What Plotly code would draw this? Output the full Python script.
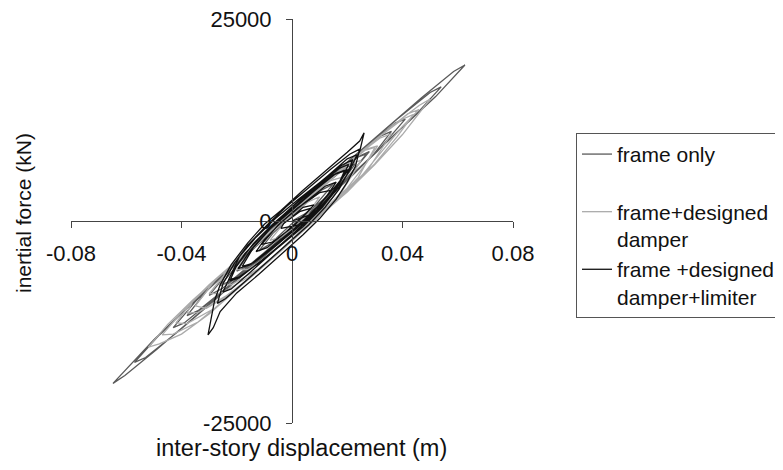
import plotly.graph_objects as go

# ---- data ----
x_ticks = [-0.08, -0.04, 0, 0.04, 0.08]
x_tick_labels = ["-0.08", "-0.04", "0", "0.04", "0.08"]
y_ticks = [-25000, 0, 25000]
y_tick_labels = ["-25000", "0", "25000"]

series_names = ["frame only", "frame+designed<br>damper", "frame +designed<br>damper+limiter"]

frame_only_x = [0, 0.006, 0.013, 0.020, 0.027, 0.023, 0.014, 0.005, -0.004, -0.013, -0.022, -0.030,
                -0.025, -0.015, -0.005, 0.006, 0.018, 0.030, 0.042, 0.052, 0.0626,
                0.0585, 0.047, 0.034, 0.020, 0.006, -0.008, -0.022, -0.036, -0.050, -0.0648,
                -0.0605, -0.049, -0.036, -0.022, -0.008, 0.006, 0.019, 0.031, 0.041,
                0.0375, 0.027, 0.015, 0.003, -0.010, -0.023, -0.035, -0.043,
                -0.039, -0.028, -0.016, -0.004, 0.008, 0.019, 0.028,
                0.024, 0.014, 0.003, -0.008, -0.018, -0.026,
                -0.022, -0.012, -0.002, 0.008, 0.015,
                0.011, 0.002, -0.007, -0.012, -0.008, 0,
                0.010, 0.022, 0.034, 0.046, 0.054,
                0.050, 0.038, 0.025, 0.010, -0.005, -0.020, -0.035, -0.048, -0.057,
                -0.053, -0.041, -0.027, -0.013, 0.001, 0.015, 0.029, 0.036,
                0.032, 0.020, 0.007, -0.006, -0.019, -0.031, -0.038,
                -0.034, -0.022, -0.009, 0.004, 0.016, 0.023,
                0.019, 0.008, -0.003, -0.014, -0.020,
                -0.016, -0.005, 0.004]
frame_only_f = [0, 1150, 3100, 5260, 8300, 7800, 5300, 2650, -130, -3000, -5900, -9200,
                -8300, -5600, -2650, 750, 4550, 8350, 12150, 15400, 19300,
                18500, 15280, 11470, 7360, 3150, -1160, -5580, -10090, -14700, -20100,
                -19130, -15890, -12090, -7980, -3760, 550, 4750, 8650, 12600,
                12150, 9220, 5720, 2120, -1980, -6080, -9980, -13200,
                -12610, -9520, -6030, -2430, 1360, 4950, 8600,
                7990, 5210, 1920, -1560, -4740, -8000,
                -7380, -4500, -1520, 1760, 4600,
                3890, 1320, -1560, -3700, -2860, -300,
                1900, 5700, 9700, 13600, 16600,
                15900, 12600, 8800, 4300, -300, -5000, -9800, -14100, -17500,
                -16900, -13600, -9500, -5100, -900, 3600, 8000, 11100,
                10500, 7300, 3300, -700, -4800, -8700, -11700,
                -11100, -7800, -3900, 0, 3900, 7100,
                6500, 3400, 100, -3300, -6200,
                -5600, -2500, 500]

damper_x = [0, 0.008, 0.016, 0.024, 0.030,
            0.026, 0.016, 0.005, -0.006, -0.017, -0.028, -0.035,
            -0.031, -0.022, -0.012, -0.002, 0.008, 0.019, 0.030, 0.040, 0.050,
            0.046, 0.036, 0.024, 0.012, 0, -0.012, -0.024, -0.036, -0.045, -0.052,
            -0.048, -0.040, -0.030, -0.018, -0.006, 0.006, 0.018, 0.028, 0.036,
            0.032, 0.022, 0.010, -0.002, -0.014, -0.026, -0.036, -0.042,
            -0.038, -0.028, -0.016, -0.004, 0.008, 0.018, 0.025,
            0.021, 0.011, 0, -0.011, -0.022, -0.030,
            -0.026, -0.016, -0.005, 0.006, 0.013, 0.018,
            0.014, 0.004, -0.007, -0.015, -0.020,
            -0.016, -0.007, 0.002, 0.010,
            0.006, -0.002, -0.008, -0.004, 0,
            0.010, 0.020, 0.030, 0.038, 0.044,
            0.040, 0.030, 0.018, 0.006, -0.006, -0.018, -0.030, -0.040, -0.047,
            -0.043, -0.034, -0.022, -0.010, 0.002, 0.014, 0.024, 0.032, 0.040, 0.046,
            0.042, 0.031, 0.019, 0.007, -0.005, -0.017, -0.028, -0.036, -0.038,
            -0.034, -0.024, -0.013, -0.001, 0.010, 0.020, 0.027, 0.031,
            0.027, 0.017, 0.006, -0.005, -0.015, -0.024, -0.026,
            -0.022, -0.012, -0.001, 0.008, 0.015, 0.021,
            0.017, 0.007, -0.003, -0.009]
damper_f = [0, 400, 2500, 5400, 9100,
            8700, 5900, 2600, -700, -4000, -7400, -10500,
            -10800, -9000, -6100, -3100, 0, 3300, 7000, 10700, 15100,
            14300, 11700, 8300, 4700, 1100, -2500, -6100, -9800, -12800, -15600,
            -15200, -14000, -11500, -7900, -4300, -600, 3100, 6600, 10800,
            10300, 7700, 4100, 500, -3100, -6700, -9900, -12600,
            -12700, -10800, -7300, -3700, 100, 3600, 7500,
            7100, 4400, 1100, -2200, -5600, -9000,
            -9000, -7000, -3900, -200, 2400, 5400,
            5000, 2200, -1100, -3700, -6000,
            -6000, -3900, -900, 3000,
            2400, 100, -2400, -2000, -1000,
            700, 3600, 7100, 10400, 13200,
            12600, 10000, 6500, 2900, -700, -4300, -7900, -11300, -14100,
            -14000, -12500, -9100, -5500, -1900, 1800, 5100, 8400, 11700, 13800,
            13300, 10300, 6800, 3200, -400, -4000, -7400, -10000, -11400,
            -11300, -9300, -6400, -2800, 800, 4100, 7200, 9300,
            8900, 6100, 2900, -400, -3400, -6100, -7800,
            -7900, -5900, -2700, 300, 3000, 6300,
            6000, 3100, 200, -1600]

limiter_x = [0, 0.006, 0.012, 0.018, 0.022, 0.0245, 0.0261,
             0.0245, 0.020, 0.012, 0.004, -0.004, -0.010, -0.016, -0.022, -0.026, -0.028, -0.0304,
             -0.0285, -0.026, -0.020, -0.012, -0.004, 0.004, 0.010, 0.016, 0.020, 0.023, 0.0245,
             0.021, 0.014, 0.006, -0.002, -0.009, -0.016, -0.021, -0.025, -0.027,
             -0.024, -0.018, -0.010, -0.002, 0.006, 0.012, 0.017, 0.020, 0.022,
             0.018, 0.010, 0.002, -0.006, -0.013, -0.019, -0.023,
             -0.019, -0.012, -0.004, 0.004, 0.011, 0.016, 0.019,
             0.015, 0.007, -0.001, -0.008, -0.014, -0.018,
             -0.014, -0.006, 0.002, 0.009, 0.014,
             0.010, 0.002, -0.005, -0.011,
             -0.007, 0, 0.007,
             0.003, -0.003, -0.004,
             0.004, 0.011, 0.017, 0.021, 0.0235,
             0.020, 0.013, 0.005, -0.003, -0.010, -0.017, -0.022, -0.025,
             -0.022, -0.015, -0.007, 0.001, 0.008, 0.014, 0.018, 0.0205,
             0.017, 0.009, 0.001, -0.007, -0.014, -0.020, -0.0225,
             -0.019, -0.011, -0.003, 0.005, 0.012, 0.017, 0.020,
             0.016, 0.008, 0, -0.008, -0.015, -0.0195,
             -0.015, -0.007, 0.001, 0.008, 0.013, 0.016,
             0.012, 0.004, -0.004, -0.010, -0.013,
             -0.009, -0.002, 0.004, 0.008,
             0.004, 0]
limiter_f = [0, 700, 2800, 5200, 7100, 8600, 10900,
             9900, 8500, 6200, 3800, 1300, -400, -2700, -5400, -7900, -9800, -14100,
             -13200, -11200, -8900, -6600, -4200, -1700, 300, 2700, 4800, 6800, 8900,
             8300, 6400, 4100, 1800, -500, -3000, -5300, -7800, -10200,
             -9600, -7800, -5400, -3000, -500, 1700, 3900, 5800, 7600,
             6900, 4800, 2600, 300, -2000, -4400, -7300,
             -6900, -5200, -3000, -700, 1700, 3900, 6200,
             5700, 3500, 1200, -1000, -3300, -5600,
             -5200, -3100, -800, 1400, 3800,
             3500, 1600, -500, -2900,
             -2600, -800, 1600,
             1200, -300, -900,
             -400, 1800, 4200, 6300, 8200,
             7700, 5600, 3300, 800, -1500, -4000, -6600, -8800,
             -8400, -6300, -3900, -1400, 900, 3200, 5200, 7000,
             6500, 4300, 2000, -400, -2800, -5500, -7400,
             -7000, -4900, -2600, -200, 2200, 4500, 6400,
             5900, 3700, 1400, -1000, -3600, -5900,
             -5400, -3200, -900, 1300, 3300, 4800,
             4300, 2100, -200, -2300, -3800,
             -3300, -1300, 600, 2000,
             1700, 500]

# ---- figure ----
FONT = "Liberation Sans, Arial, sans-serif"
fig = go.Figure()
fig.add_trace(go.Scatter(x=frame_only_x, y=frame_only_f, mode="lines", name=series_names[0] + "<br> ",
                         line=dict(color="#5a5a5a", width=1.3)))
fig.add_trace(go.Scatter(x=damper_x, y=damper_f, mode="lines", name=series_names[1],
                         line=dict(color="#ababab", width=1.3)))
fig.add_trace(go.Scatter(x=limiter_x, y=limiter_f, mode="lines", name=series_names[2],
                         line=dict(color="#111111", width=1.3)))

# the page body has an 8px margin; size the figure so it fits the window without scrolling
fig.update_layout(
    width=767, height=454,
    margin=dict(l=63, r=262, t=11, b=39, autoexpand=False),
    paper_bgcolor="white", plot_bgcolor="white",
    font=dict(family=FONT, size=22, color="#111111"),
    showlegend=True,
    legend=dict(x=1.1425, y=0.718, xanchor="left", yanchor="top",
                bordercolor="#555555", borderwidth=1, bgcolor="white",
                font=dict(family=FONT, size=21, color="#111111"),
                valign="top", tracegroupgap=0),
    xaxis=dict(range=[-0.08, 0.08], tickvals=x_ticks, ticktext=x_tick_labels,
               anchor="free", position=0.5, showline=True, linecolor="#444444", linewidth=1,
               ticks="outside", ticklen=6, tickcolor="#444444", showgrid=False, zeroline=False,
               ticklabelstandoff=7, tickfont=dict(size=22), automargin=False,
               ticklabeloverflow="allow"),
    yaxis=dict(range=[-25000, 25000], tickvals=y_ticks, ticktext=y_tick_labels,
               anchor="free", position=0.5, showline=True, linecolor="#444444", linewidth=1,
               ticks="outside", ticklen=6, tickcolor="#444444", showgrid=False, zeroline=False,
               ticklabelstandoff=10, tickfont=dict(size=22), automargin=False,
               ticklabeloverflow="allow"),
    annotations=[
        dict(text="inter-story displacement (m)", xref="paper", yref="paper",
             x=0.5226, y=-0.062, xanchor="center", yanchor="middle",
             showarrow=False, font=dict(size=23.5)),
        dict(text="inertial force (kN)", xref="paper", yref="paper",
             x=-0.1086, y=0.5198, xanchor="center", yanchor="middle",
             showarrow=False, textangle=-90, font=dict(size=21)),
    ],
)

fig.write_html("out.html")
